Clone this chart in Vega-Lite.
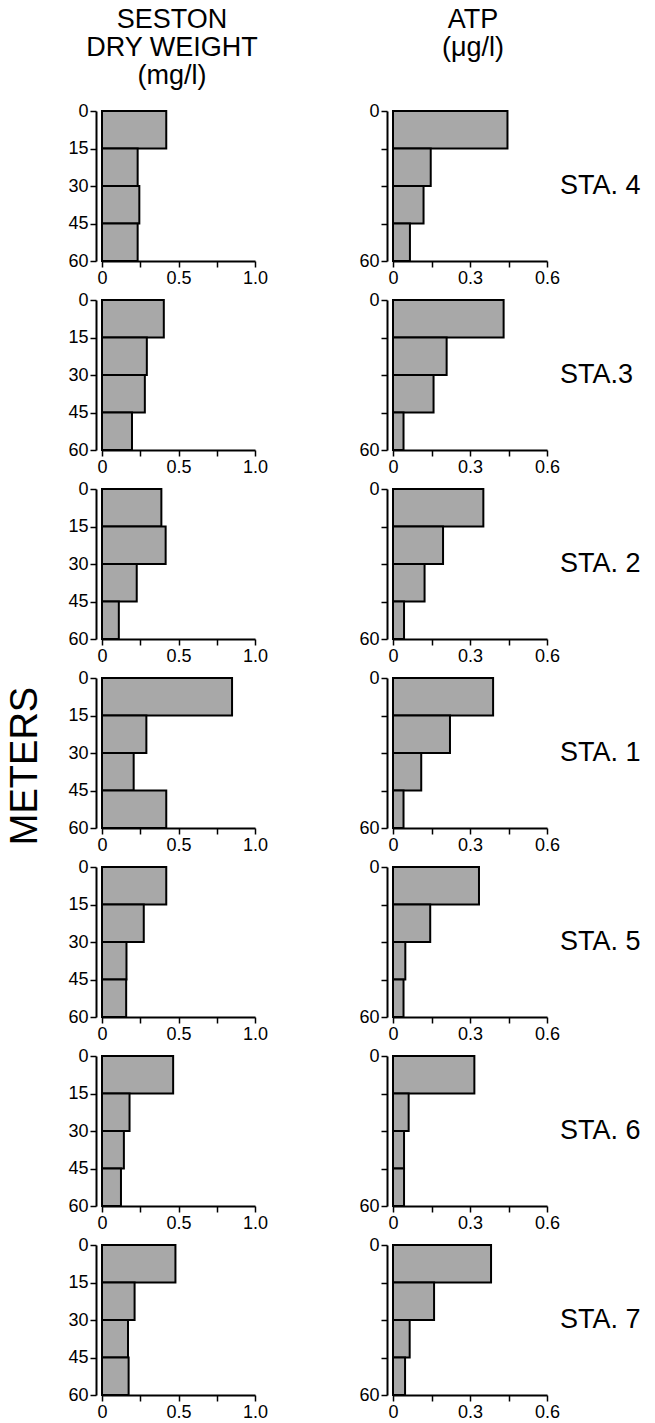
{
  "$schema": "https://vega.github.io/schema/vega-lite/v6.json",
  "background": "white",
  "padding": {"left": 6, "top": 6, "right": 5, "bottom": 5},
  "config": {
    "font": "Liberation Sans",
    "view": {"stroke": null},
    "axis": {"grid": false, "domainColor": "black", "domainWidth": 2, "tickColor": "black", "tickWidth": 1.5, "tickSize": 6, "labelFont": "Liberation Sans", "labelFontSize": 18, "labelColor": "black", "labelPadding": 2, "labelFlush": false, "labelOverlap": false, "title": null},
    "title": {"font": "Liberation Sans", "fontSize": 27, "fontWeight": "normal", "color": "black"},
    "header": {"labelColor": "black", "titleColor": "black"}
  },
  "data": {"values": [
    {"station": "STA. 4", "top": 0, "bottom": 15, "seston": 0.42, "atp": 0.446},
    {"station": "STA. 4", "top": 15, "bottom": 30, "seston": 0.233, "atp": 0.147},
    {"station": "STA. 4", "top": 30, "bottom": 45, "seston": 0.244, "atp": 0.119},
    {"station": "STA. 4", "top": 45, "bottom": 60, "seston": 0.233, "atp": 0.066},
    {"station": "STA.3", "top": 0, "bottom": 15, "seston": 0.404, "atp": 0.431},
    {"station": "STA.3", "top": 15, "bottom": 30, "seston": 0.293, "atp": 0.209},
    {"station": "STA.3", "top": 30, "bottom": 45, "seston": 0.28, "atp": 0.158},
    {"station": "STA.3", "top": 45, "bottom": 60, "seston": 0.196, "atp": 0.041},
    {"station": "STA. 2", "top": 0, "bottom": 15, "seston": 0.388, "atp": 0.352},
    {"station": "STA. 2", "top": 15, "bottom": 30, "seston": 0.416, "atp": 0.195},
    {"station": "STA. 2", "top": 30, "bottom": 45, "seston": 0.227, "atp": 0.123},
    {"station": "STA. 2", "top": 45, "bottom": 60, "seston": 0.11, "atp": 0.043},
    {"station": "STA. 1", "top": 0, "bottom": 15, "seston": 0.85, "atp": 0.39},
    {"station": "STA. 1", "top": 15, "bottom": 30, "seston": 0.29, "atp": 0.222},
    {"station": "STA. 1", "top": 30, "bottom": 45, "seston": 0.207, "atp": 0.11},
    {"station": "STA. 1", "top": 45, "bottom": 60, "seston": 0.42, "atp": 0.041},
    {"station": "STA. 5", "top": 0, "bottom": 15, "seston": 0.42, "atp": 0.335},
    {"station": "STA. 5", "top": 15, "bottom": 30, "seston": 0.273, "atp": 0.145},
    {"station": "STA. 5", "top": 30, "bottom": 45, "seston": 0.16, "atp": 0.048},
    {"station": "STA. 5", "top": 45, "bottom": 60, "seston": 0.158, "atp": 0.041},
    {"station": "STA. 6", "top": 0, "bottom": 15, "seston": 0.465, "atp": 0.317},
    {"station": "STA. 6", "top": 15, "bottom": 30, "seston": 0.18, "atp": 0.061},
    {"station": "STA. 6", "top": 30, "bottom": 45, "seston": 0.143, "atp": 0.043},
    {"station": "STA. 6", "top": 45, "bottom": 60, "seston": 0.124, "atp": 0.043},
    {"station": "STA. 7", "top": 0, "bottom": 15, "seston": 0.48, "atp": 0.382},
    {"station": "STA. 7", "top": 15, "bottom": 30, "seston": 0.213, "atp": 0.16},
    {"station": "STA. 7", "top": 30, "bottom": 45, "seston": 0.17, "atp": 0.065},
    {"station": "STA. 7", "top": 45, "bottom": 60, "seston": 0.174, "atp": 0.047}
  ]},
  "spacing": 90,
  "hconcat": [
    {
      "title": {"text": ["SESTON", "DRY WEIGHT", "(mg/l)"], "lineHeight": 28, "anchor": "middle", "frame": "group", "offset": 12, "dx": 70},
      "spacing": {"row": 12},
      "resolve": {"axis": {"x": "independent"}},
      "facet": {"row": {"field": "station", "type": "nominal", "sort": ["STA. 4", "STA.3", "STA. 2", "STA. 1", "STA. 5", "STA. 6", "STA. 7"], "header": {"labels": false, "title": "METERS", "titleFontSize": 38, "titleFont": "Liberation Sans", "titleFontWeight": "normal", "titlePadding": 12}}},
      "spec": {
        "width": 153,
        "height": 150,
        "mark": {"type": "bar", "fill": "#a8a8a8", "stroke": "black", "strokeWidth": 2},
        "encoding": {
          "x": {"field": "seston", "type": "quantitative", "scale": {"domain": [0, 1]}, "axis": {"values": [0, 0.25, 0.5, 0.75, 1], "labelExpr": "datum.value == 0 ? '0' : datum.value == 0.5 ? '0.5' : datum.value == 1 ? '1.0' : ''"}},
          "x2": {"datum": 0},
          "y": {"field": "top", "type": "quantitative", "scale": {"domain": [0, 60], "reverse": true}, "axis": {"values": [0, 15, 30, 45, 60]}},
          "y2": {"field": "bottom"}
        }
      }
    },
    {
      "title": {"text": ["ATP", "(μg/l)"], "lineHeight": 28, "anchor": "middle", "frame": "group", "offset": 12, "dy": -28, "dx": 80},
      "spacing": {"row": 12},
      "resolve": {"axis": {"x": "independent"}},
      "facet": {"row": {"field": "station", "type": "nominal", "sort": ["STA. 4", "STA.3", "STA. 2", "STA. 1", "STA. 5", "STA. 6", "STA. 7"], "header": {"title": null, "labelOrient": "right", "labelAngle": 0, "labelAlign": "right", "labelBaseline": "middle", "labelFontSize": 27, "labelFont": "Liberation Sans", "labelPadding": 0}}},
      "spec": {
        "width": 154,
        "height": 150,
        "mark": {"type": "bar", "fill": "#a8a8a8", "stroke": "black", "strokeWidth": 2},
        "encoding": {
          "x": {"field": "atp", "type": "quantitative", "scale": {"domain": [0, 0.6]}, "axis": {"values": [0, 0.15, 0.3, 0.45, 0.6], "labelExpr": "datum.value == 0 ? '0' : abs(datum.value - 0.3) < 0.001 ? '0.3' : abs(datum.value - 0.6) < 0.001 ? '0.6' : ''"}},
          "x2": {"datum": 0},
          "y": {"field": "top", "type": "quantitative", "scale": {"domain": [0, 60], "reverse": true}, "axis": {"values": [0, 15, 30, 45, 60], "labelExpr": "datum.value == 0 || datum.value == 60 ? datum.label : ''"}},
          "y2": {"field": "bottom"}
        }
      }
    }
  ]
}
